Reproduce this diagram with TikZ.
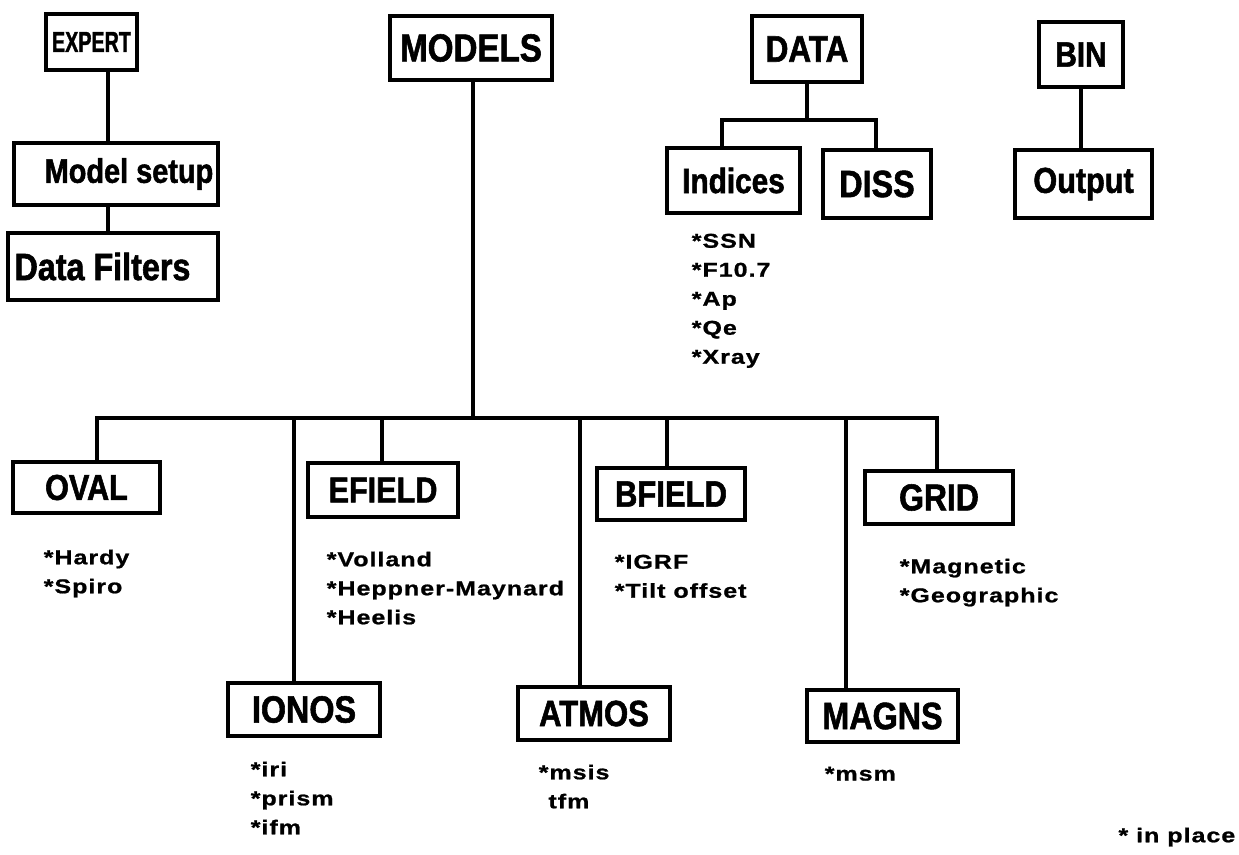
\documentclass[tikz,border=0pt]{standalone}
\usepackage{fontspec}
\usepackage{graphicx}
\setmainfont{Liberation Sans}
\newfontfamily\boxfont{Liberation Sans}[FakeStretch=0.85,FakeBold=1.5]
\newfontfamily\listfont{Liberation Sans}[FakeStretch=1.25,LetterSpace=5,FakeBold=1]
\usetikzlibrary{positioning}
\newcommand\bx[1]{\boxfont\bfseries\fontsize{#1}{#1}\selectfont}

\begin{document}
\begin{tikzpicture}[x=1pt, y=-1pt, line width=3.5pt,
        blk/.style={draw, rectangle, inner sep=0pt, line width=3.5pt},
        lst/.style={anchor=north west, align=left, inner sep=0pt, font=\listfont\bfseries\fontsize{20}{29}\selectfont}]
        \useasboundingbox (0,0) rectangle (1239,854);

        \node [blk, minimum width=91pt, minimum height=56pt, font=\bx{29}] (Expert) at (91.5,42) {\scalebox{0.8}[1]{EXPERT}};
        \node [blk, minimum width=204pt, minimum height=62pt, font=\bx{34}, below=69.5pt of Expert, xshift=24.5pt] (Setup) {\hspace*{26pt}Model setup};
        \node [blk, minimum width=210pt, minimum height=67pt, font=\bx{38}, below=24.5pt of Setup, xshift=-3pt] (Filters) {Data Filters\hspace*{21pt}};
        \draw ([xshift=16.5pt]Expert.south) -- ([xshift=-8pt]Setup.north);
        \draw ([xshift=-8pt]Setup.south) -- ([xshift=-5pt]Filters.north);

        \node [blk, minimum width=162pt, minimum height=64pt, font=\bx{39}] (Models) at (471,48) {MODELS};

        \node [blk, minimum width=110pt, minimum height=66pt, font=\bx{37}] (Data) at (807,49) {DATA};
        \node [blk, minimum width=133pt, minimum height=65pt, font=\bx{35}] (Indices) at (733.5,180.5) {Indices};
        \node [blk, minimum width=108pt, minimum height=68pt, font=\bx{38}] (Diss) at (877,184) {DISS};
        \coordinate (DataJ) at (807,120);
        \draw (Data.south) -- (DataJ);
        \foreach \n/\dx in {Indices/-11.5, Diss/-1}
            \draw ([xshift=\dx pt]\n.north) |- (DataJ);
        \node [lst] (IndexList) at (690,232) {*SSN\\*F10.7\\*Ap\\*Qe\\*Xray};

        \node [blk, minimum width=84pt, minimum height=65pt, font=\bx{35}] (Bin) at (1081,54.5) {BIN};
        \node [blk, minimum width=137pt, minimum height=68pt, font=\bx{36}, below=59.5pt of Bin, xshift=2.5pt] (Output) {Output};
        \draw (Bin.south) -- (Bin.south |- Output.north);

        \node [blk, minimum width=147pt, minimum height=51pt, font=\bx{36}] (Oval) at (86.5,487.5) {OVAL};
        \node [blk, minimum width=150pt, minimum height=54pt, font=\bx{36}] (Efield) at (383,490) {EFIELD};
        \node [blk, minimum width=148pt, minimum height=52pt, font=\bx{36.5}] (Bfield) at (671,494) {BFIELD};
        \node [blk, minimum width=148pt, minimum height=53pt, font=\bx{37.5}] (Grid) at (939,497.5) {GRID};
        \node [blk, minimum width=152pt, minimum height=53pt, font=\bx{38}] (Ionos) at (304,709.5) {IONOS};
        \node [blk, minimum width=152pt, minimum height=53pt, font=\bx{36.5}] (Atmos) at (594,713.5) {ATMOS};
        \node [blk, minimum width=151pt, minimum height=52pt, font=\bx{38}] (Magns) at (882.5,716) {MAGNS};

        \coordinate (BusJ) at (473,418);
        \draw (BusJ |- Models.south) -- (BusJ);
        \foreach \n/\dx in {Oval/10.5, Ionos/-10, Efield/-1, Atmos/-14, Bfield/-4, Magns/-36.5, Grid/-2}
            \draw ([xshift=\dx pt]\n.north) |- (BusJ);

        \node [lst] (OvalList) at (42,548) {*Hardy\\*Spiro};
        \node [lst] (EfieldList) at (325,550) {*Volland\\*Heppner-Maynard\\*Heelis};
        \node [lst] (BfieldList) at (613,553) {*IGRF\\*Tilt offset};
        \node [lst] (GridList) at (898,557) {*Magnetic\\*Geographic};
        \node [lst] (IonosList) at (249,760) {*iri\\*prism\\*ifm};
        \node [lst] (AtmosList) at (537,763) {*msis\\\phantom{*}tfm};
        \node [lst] (MagnsList) at (823,765) {*msm};
        \node [lst, anchor=north east] (Note) at (1237,826) {* in place};
\end{tikzpicture}
\end{document}
